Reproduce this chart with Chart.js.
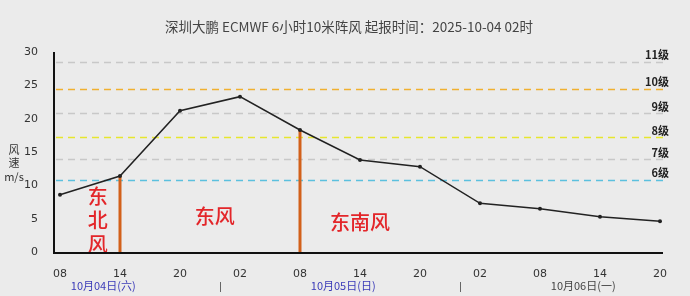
<!DOCTYPE html>
<html><head><meta charset="utf-8">
<script src="https://cdn.jsdelivr.net/npm/chart.js@4"></script>
<style>html,body{margin:0;padding:0;background:#ebebeb;}#wrap{width:690px;height:296px;}</style>
</head><body><div id="wrap"><canvas id="c" width="690" height="296"></canvas></div>
<script>
const title = "深圳大鹏 ECMWF 6小时10米阵风 起报时间：2025-10-04 02时";
const hourLabels = ["08","14","20","02","08","14","20","02","08","14","20"];
const gustValues = [8.6, 11.4, 21.2, 23.3, 18.3, 13.8, 12.8, 7.3, 6.5, 5.3, 4.6];
const yTicks = [0,5,10,15,20,25,30];
const levelNames = ["6级","7级","8级","9级","10级","11级"];
const levelValues = [10.8, 13.9, 17.2, 20.8, 24.5, 28.5];
const levelColors = ["#5bc0de","#c8c8c8","#e6e62e","#c8c8c8","#f0b030","#c8c8c8"];
const windChangeIdx = [1, 4];
const windDirNames = ["东北风","东风","东南风"];
const windDirPos = [0.63, 2.58, 5.0];
const dateLabels = ["10月04日(六)","10月05日(日)","10月06日(一)"];
const datePos = [0.72, 4.72, 8.72];
const dateColors = ["#3a3ab8","#3a3ab8","#444444"];
const dateSepPos = [2.67, 6.67];

const decor = {
  id:'decor',
  beforeDatasetsDraw(chart){
    const {ctx, chartArea:a, scales:{x,y}} = chart;
    ctx.save();
    ctx.lineWidth = 1.5;
    ctx.setLineDash([7,5]);
    levelValues.forEach((v,i)=>{
      const py = Math.round(y.getPixelForValue(v))+0.5;
      ctx.strokeStyle = levelColors[i];
      ctx.beginPath(); ctx.moveTo(a.left+2, py); ctx.lineTo(a.right, py); ctx.stroke();
    });
    ctx.setLineDash([]);
    ctx.font = "bold 11px 'Noto Sans CJK SC', sans-serif";
    ctx.fillStyle = "#222";
    ctx.textAlign = "right"; ctx.textBaseline = "middle";
    levelValues.forEach((v,i)=>{
      const py = y.getPixelForValue(v);
      ctx.fillText(levelNames[i], 669, py-7);
    });
    ctx.strokeStyle = "#d2601a"; ctx.lineWidth = 3;
    windChangeIdx.forEach(i=>{
      const px = x.getPixelForValue(i);
      ctx.beginPath(); ctx.moveTo(px, y.getPixelForValue(gustValues[i])); ctx.lineTo(px, y.getPixelForValue(0)); ctx.stroke();
    });
    ctx.fillStyle = "#e3262a";
    ctx.font = "500 20px 'Noto Sans CJK SC', sans-serif";
    ctx.textAlign = "center"; ctx.textBaseline = "middle";
    const x0 = x.getPixelForValue(windDirPos[0]);
    ["东","北","风"].forEach((ch,k)=>ctx.fillText(ch, x0, 196+k*24));
    ctx.fillText(windDirNames[1], x.getPixelForValue(windDirPos[1]), 216);
    ctx.fillText(windDirNames[2], x.getPixelForValue(windDirPos[2]), 222);
    ctx.restore();
  },
  afterDraw(chart){
    const {ctx, chartArea:a, scales:{x,y}} = chart;
    ctx.save();
    ctx.strokeStyle = "#111"; ctx.lineWidth = 2;
    ctx.beginPath(); ctx.moveTo(a.left, a.top); ctx.lineTo(a.left, a.bottom+1); ctx.lineTo(a.right, a.bottom+1); ctx.stroke();
    ctx.fillStyle = "#444";
    ctx.font = "13.5px 'Noto Sans CJK SC', sans-serif";
    ctx.textAlign = "center"; ctx.textBaseline = "middle";
    ctx.fillText(title, 349, 27);
    ctx.font = "11px 'Noto Sans CJK SC', sans-serif";
    ctx.fillStyle = "#333";
    ctx.fillText("风", 14, 150);
    ctx.fillText("速", 14, 163);
    ctx.fillText("m/s", 14, 177);
    ctx.font = "11px 'Noto Sans CJK SC', sans-serif";
    dateLabels.forEach((d,i)=>{
      ctx.fillStyle = dateColors[i];
      ctx.fillText(d, x.getPixelForValue(datePos[i]), 286);
    });
    ctx.fillStyle = "#666";
    dateSepPos.forEach(p=>ctx.fillRect(Math.round(x.getPixelForValue(p)), 282, 1, 10));
    ctx.restore();
  }
};

new Chart(document.getElementById('c'), {
  type:'line',
  data:{ datasets:[{
    data: gustValues.map((v,i)=>({x:i,y:v})),
    borderColor:'#222', borderWidth:1.5, pointRadius:2, pointBackgroundColor:'#222', pointBorderWidth:0, tension:0
  }]},
  options:{
    responsive:false, animation:false, devicePixelRatio:1,
    layout:{padding:{top:52, right:27, left:0, bottom:0}},
    plugins:{legend:{display:false}, tooltip:{enabled:false}},
    scales:{
      x:{ type:'linear', min:-0.1, max:10.05,
        afterBuildTicks(s){ s.ticks = hourLabels.map((_,i)=>({value:i})); },
        afterFit(s){ s.height = 44; },
        grid:{display:false}, border:{display:false},
        ticks:{ autoSkip:false, maxRotation:0, padding:8, color:'#333', font:{family:'DejaVu Sans', size:11},
          callback:(v)=>hourLabels[v] }
      },
      y:{ min:0, max:30,
        afterBuildTicks(s){ s.ticks = yTicks.map(v=>({value:v})); },
        afterFit(s){ s.width = 54; },
        grid:{display:false}, border:{display:false},
        ticks:{ padding:8, color:'#333', font:{family:'DejaVu Sans', size:11} }
      }
    }
  },
  plugins:[decor]
});
</script></body></html>
